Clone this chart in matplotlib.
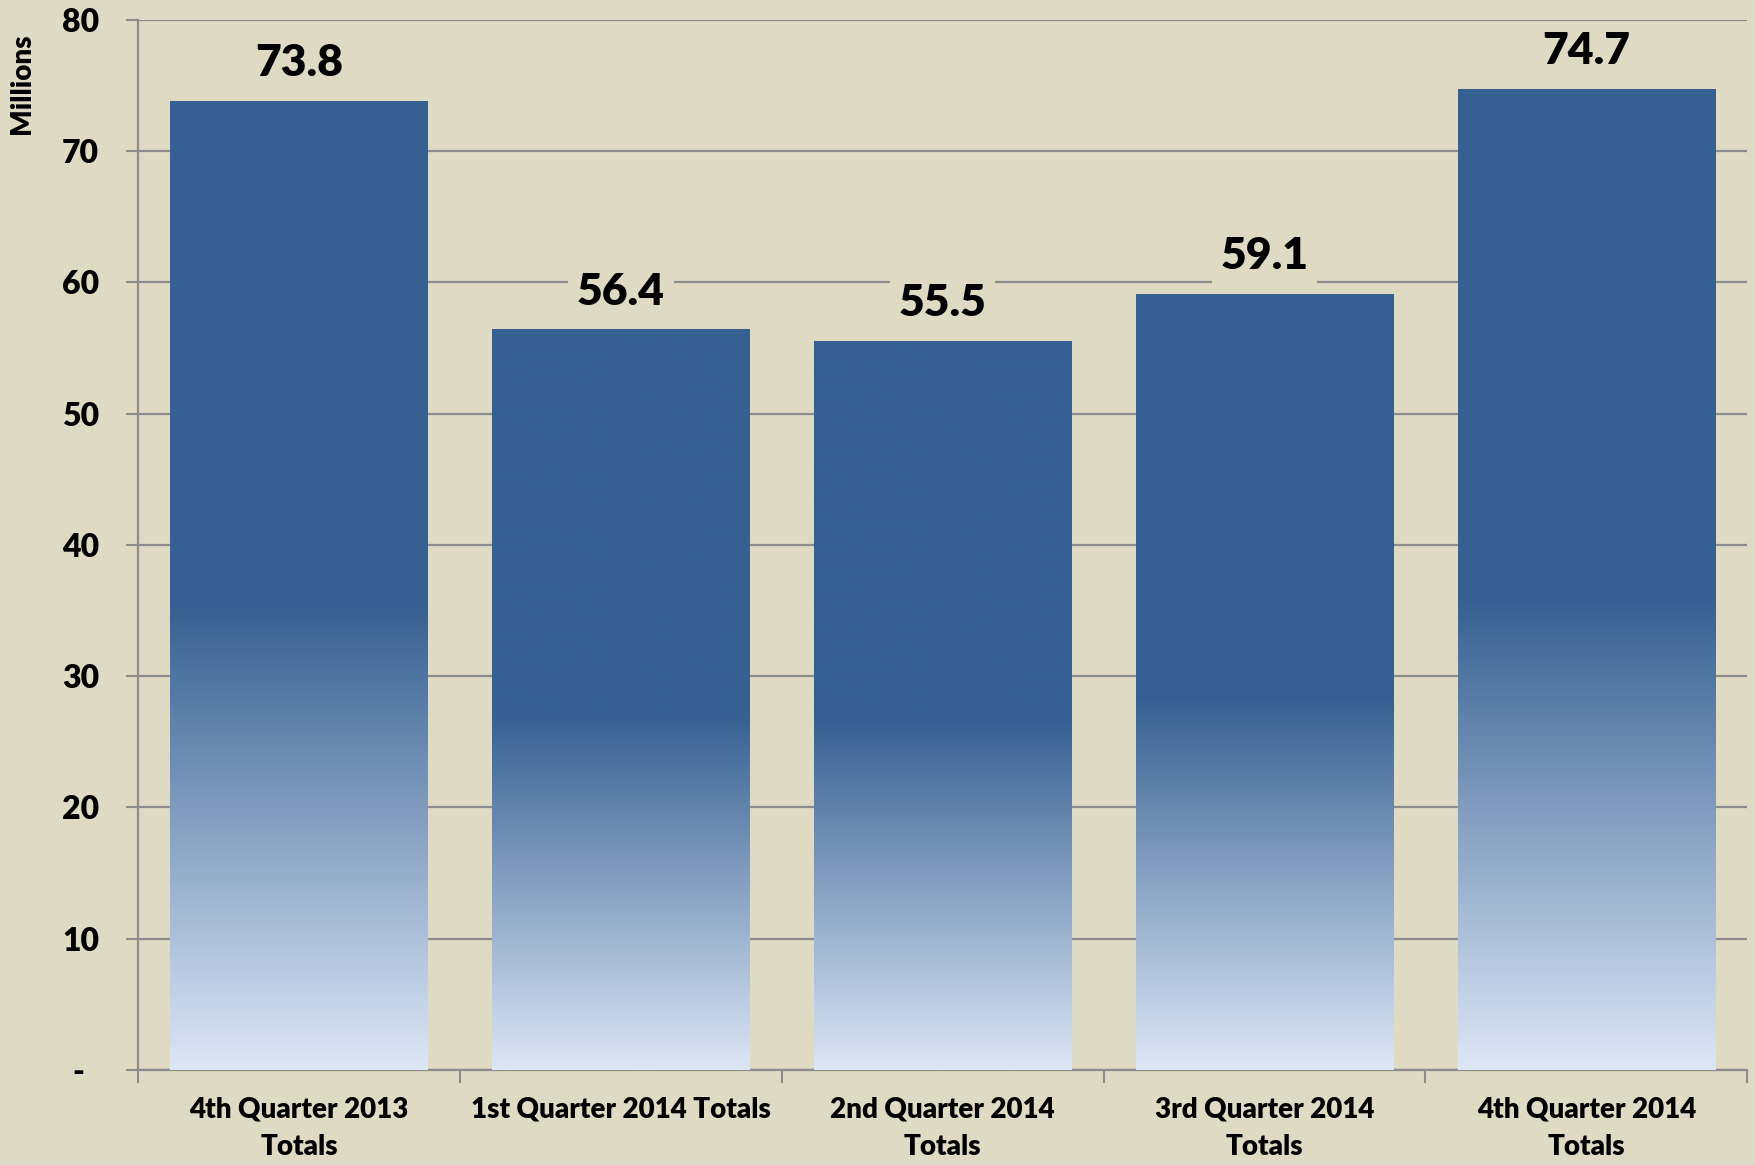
import numpy as np
import matplotlib.pyplot as plt
from matplotlib.colors import LinearSegmentedColormap

# datos del gráfico (millones)
categorias = ["4th Quarter 2013\nTotals", "1st Quarter 2014 Totals",
              "2nd Quarter 2014\nTotals", "3rd Quarter 2014\nTotals",
              "4th Quarter 2014\nTotals"]
valores = [73.8, 56.4, 55.5, 59.1, 74.7]
etiquetas = ["73.8", "56.4", "55.5", "59.1", "74.7"]
yticks = [0, 10, 20, 30, 40, 50, 60, 70, 80]
ytick_labels = ["-  ", "10", "20", "30", "40", "50", "60", "70", "80"]

fondo = "#DEDAC4"
azul = "#366092"
claro = "#DCE6F5"
gris = "#8C8C8C"

plt.rcParams["font.family"] = ["Lato", "DejaVu Sans"]
plt.rcParams["font.weight"] = "bold"

fig = plt.figure(figsize=(17.56, 11.65), dpi=100, facecolor=fondo)
ax = fig.add_axes([0.0786, 0.0815, 0.9164, 0.9015], facecolor=fondo)

x = np.arange(len(valores))
barras = ax.bar(x, valores, width=0.8, color="none", zorder=3)

# degradado: claro abajo, oscuro desde la mitad de la barra hacia arriba
cmap = LinearSegmentedColormap.from_list("grad", [(0, claro), (0.48, azul), (1, azul)])
grad = np.linspace(0, 1, 256).reshape(-1, 1)
for b in barras:
    x0, w, h = b.get_x(), b.get_width(), b.get_height()
    ax.imshow(grad, cmap=cmap, aspect="auto", origin="lower",
              extent=(x0, x0 + w, 0, h), zorder=3, interpolation="bilinear")

for xi, v, t in zip(x, valores, etiquetas):
    ax.annotate(t, (xi, v), xytext=(0, 13), textcoords="offset points",
                ha="center", va="bottom", fontsize=32, fontweight="heavy",
                zorder=5,
                bbox=dict(boxstyle="square,pad=0.2", fc=fondo, ec="none"))

ax.set_xlim(-0.5, len(valores) - 0.5)
ax.set_ylim(0, 80)
ax.set_yticks(yticks)
ax.set_yticklabels(ytick_labels, fontsize=23, fontweight="heavy")
ax.yaxis.grid(True, color=gris, linewidth=1.6, zorder=0)
ax.set_axisbelow(True)

ax.set_xticks(x)
ax.set_xticklabels(categorias, fontsize=20, fontweight="heavy", linespacing=1.55)
ax.set_xticks(np.arange(-0.5, len(valores)), minor=True)
ax.tick_params(axis="x", which="major", length=0, pad=19)
ax.tick_params(axis="x", which="minor", length=9, width=1.5, color=gris, direction="out")
ax.tick_params(axis="y", length=9, width=1.5, color=gris, pad=19)

for lado in ["top", "right"]:
    ax.spines[lado].set_visible(False)
for lado in ["left", "bottom"]:
    ax.spines[lado].set_color(gris)
    ax.spines[lado].set_linewidth(1.6)

fig.text(0.0127, 0.928, "Millions", rotation=90, ha="center", va="center",
         fontsize=20, fontweight="heavy")

fig.savefig("out.png", dpi=100, facecolor=fondo)
